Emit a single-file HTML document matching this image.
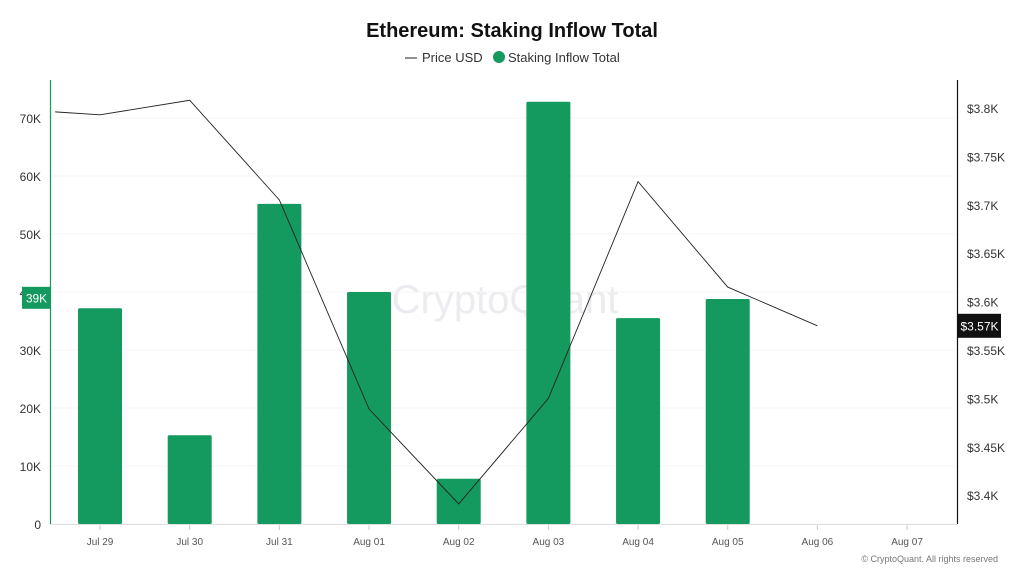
<!DOCTYPE html>
<html><head><meta charset="utf-8"><style>
body{margin:0;background:#fff;font-family:"Liberation Sans",sans-serif;}
svg text{font-family:"Liberation Sans",sans-serif;}
</style></head><body>
<svg id="c" width="1024" height="576" xmlns="http://www.w3.org/2000/svg">
<text x="512" y="37" text-anchor="middle" font-size="20" font-weight="bold" fill="#111">Ethereum: Staking Inflow Total</text>
<g>
<g><line x1="405" y1="58" x2="417" y2="58" stroke="#222" stroke-width="1"/><text x="422" y="62" font-size="13" fill="#333">Price USD</text></g>
<g><circle cx="499" cy="57" r="6" fill="#14995e"/><text x="508" y="62" font-size="13" fill="#333">Staking Inflow Total</text></g>
</g>
<text x="505" y="313" text-anchor="middle" font-size="40" fill="#ececf0">CryptoQuant</text>
<g id="grid"></g><g id="bars"></g><g id="line"></g><g id="axes"></g>
<text x="998" y="562" text-anchor="end" font-size="9" fill="#777">© CryptoQuant. All rights reserved</text>
</svg>
<script>
const categories=["Jul 29","Jul 30","Jul 31","Aug 01","Aug 02","Aug 03","Aug 04","Aug 05","Aug 06","Aug 07"];
const inflow=[37200,15300,55200,40000,7800,72800,35500,38800,null,null];
const priceIdx=[-0.5,0,1,2,3,4,5,6,7,8];
const price=[3.796,3.793,3.808,3.705,3.489,3.391,3.500,3.724,3.615,3.575];
const leftTicks=[0,10000,20000,30000,40000,50000,60000,70000];
const leftLabels=["0","10K","20K","30K","40K","50K","60K","70K"];
const rightTicks=[3.4,3.45,3.5,3.55,3.6,3.65,3.7,3.75,3.8];
const rightLabels=["$3.4K","$3.45K","$3.5K","$3.55K","$3.6K","$3.65K","$3.7K","$3.75K","$3.8K"];
const NS="http://www.w3.org/2000/svg";
const x0=55.2,bw=89.67;
const xs=i=>x0+bw*(i+0.5);
const yL=v=>524-v*406/70000;
const yR=v=>108+(3.8-v)*968;
function mk(t,a,p){const e=document.createElementNS(NS,t);for(const k in a)e.setAttribute(k,a[k]);p.appendChild(e);return e;}
const grid=document.getElementById('grid'),bars=document.getElementById('bars'),line=document.getElementById('line'),axes=document.getElementById('axes');
leftTicks.forEach((v,i)=>{
 const g=mk('line',{x1:52,x2:955,y1:yL(v),y2:yL(v),stroke:'#f4f4f4'},grid);
 
 
 const t=mk('text',{x:41,y:yL(v)+5,'text-anchor':'end','font-size':12,fill:'#333'},axes);t.textContent=leftLabels[i];
 
 
});
rightTicks.forEach((v,i)=>{
 const t=mk('text',{x:967,y:yR(v)+5,'font-size':12,fill:'#333'},axes);t.textContent=rightLabels[i];
 
 
});
inflow.forEach((v,i)=>{
 if(v==null)return;
 const r=mk('rect',{x:xs(i)-22,y:yL(v),width:44,height:524-yL(v),fill:'#14995e',rx:1.5},bars);
 
 
});
const pts=price.map((v,i)=>xs(priceIdx[i])+','+yR(v)).join(' ');
const pl=mk('polyline',{points:pts,fill:'none',stroke:'#222','stroke-width':0.9},line);


categories.forEach((c,i)=>{
 const tk=mk('line',{x1:xs(i),x2:xs(i),y1:525,y2:530,stroke:'#ccc'},axes);
 
 
 const t=mk('text',{x:xs(i),y:545,'text-anchor':'middle','font-size':10,fill:'#555'},axes);t.textContent=c;
 
 
});
const xa=mk('line',{x1:50,x2:957,y1:524.5,y2:524.5,stroke:'#e0e0e0'},axes);


const la=mk('line',{x1:50.5,x2:50.5,y1:80,y2:524,stroke:'#14995e','stroke-width':1.2},axes);


const ra=mk('line',{x1:957.5,x2:957.5,y1:80,y2:524,stroke:'#111','stroke-width':1.2},axes);


const lastInflow=39000;
const lb=mk('rect',{x:22,y:yL(lastInflow)-11,width:29,height:22,fill:'#14995e'},axes);


const lt=mk('text',{x:36.5,y:yL(lastInflow)+4.5,'text-anchor':'middle','font-size':12,fill:'#fff'},axes);lt.textContent='39K';


const lastP=price[price.length-1];
const rb=mk('rect',{x:958,y:yR(lastP)-12,width:43,height:24,fill:'#111'},axes);


const rt=mk('text',{x:979.5,y:yR(lastP)+4.5,'text-anchor':'middle','font-size':12,fill:'#fff'},axes);rt.textContent='$3.57K';


</script>
</body></html>
